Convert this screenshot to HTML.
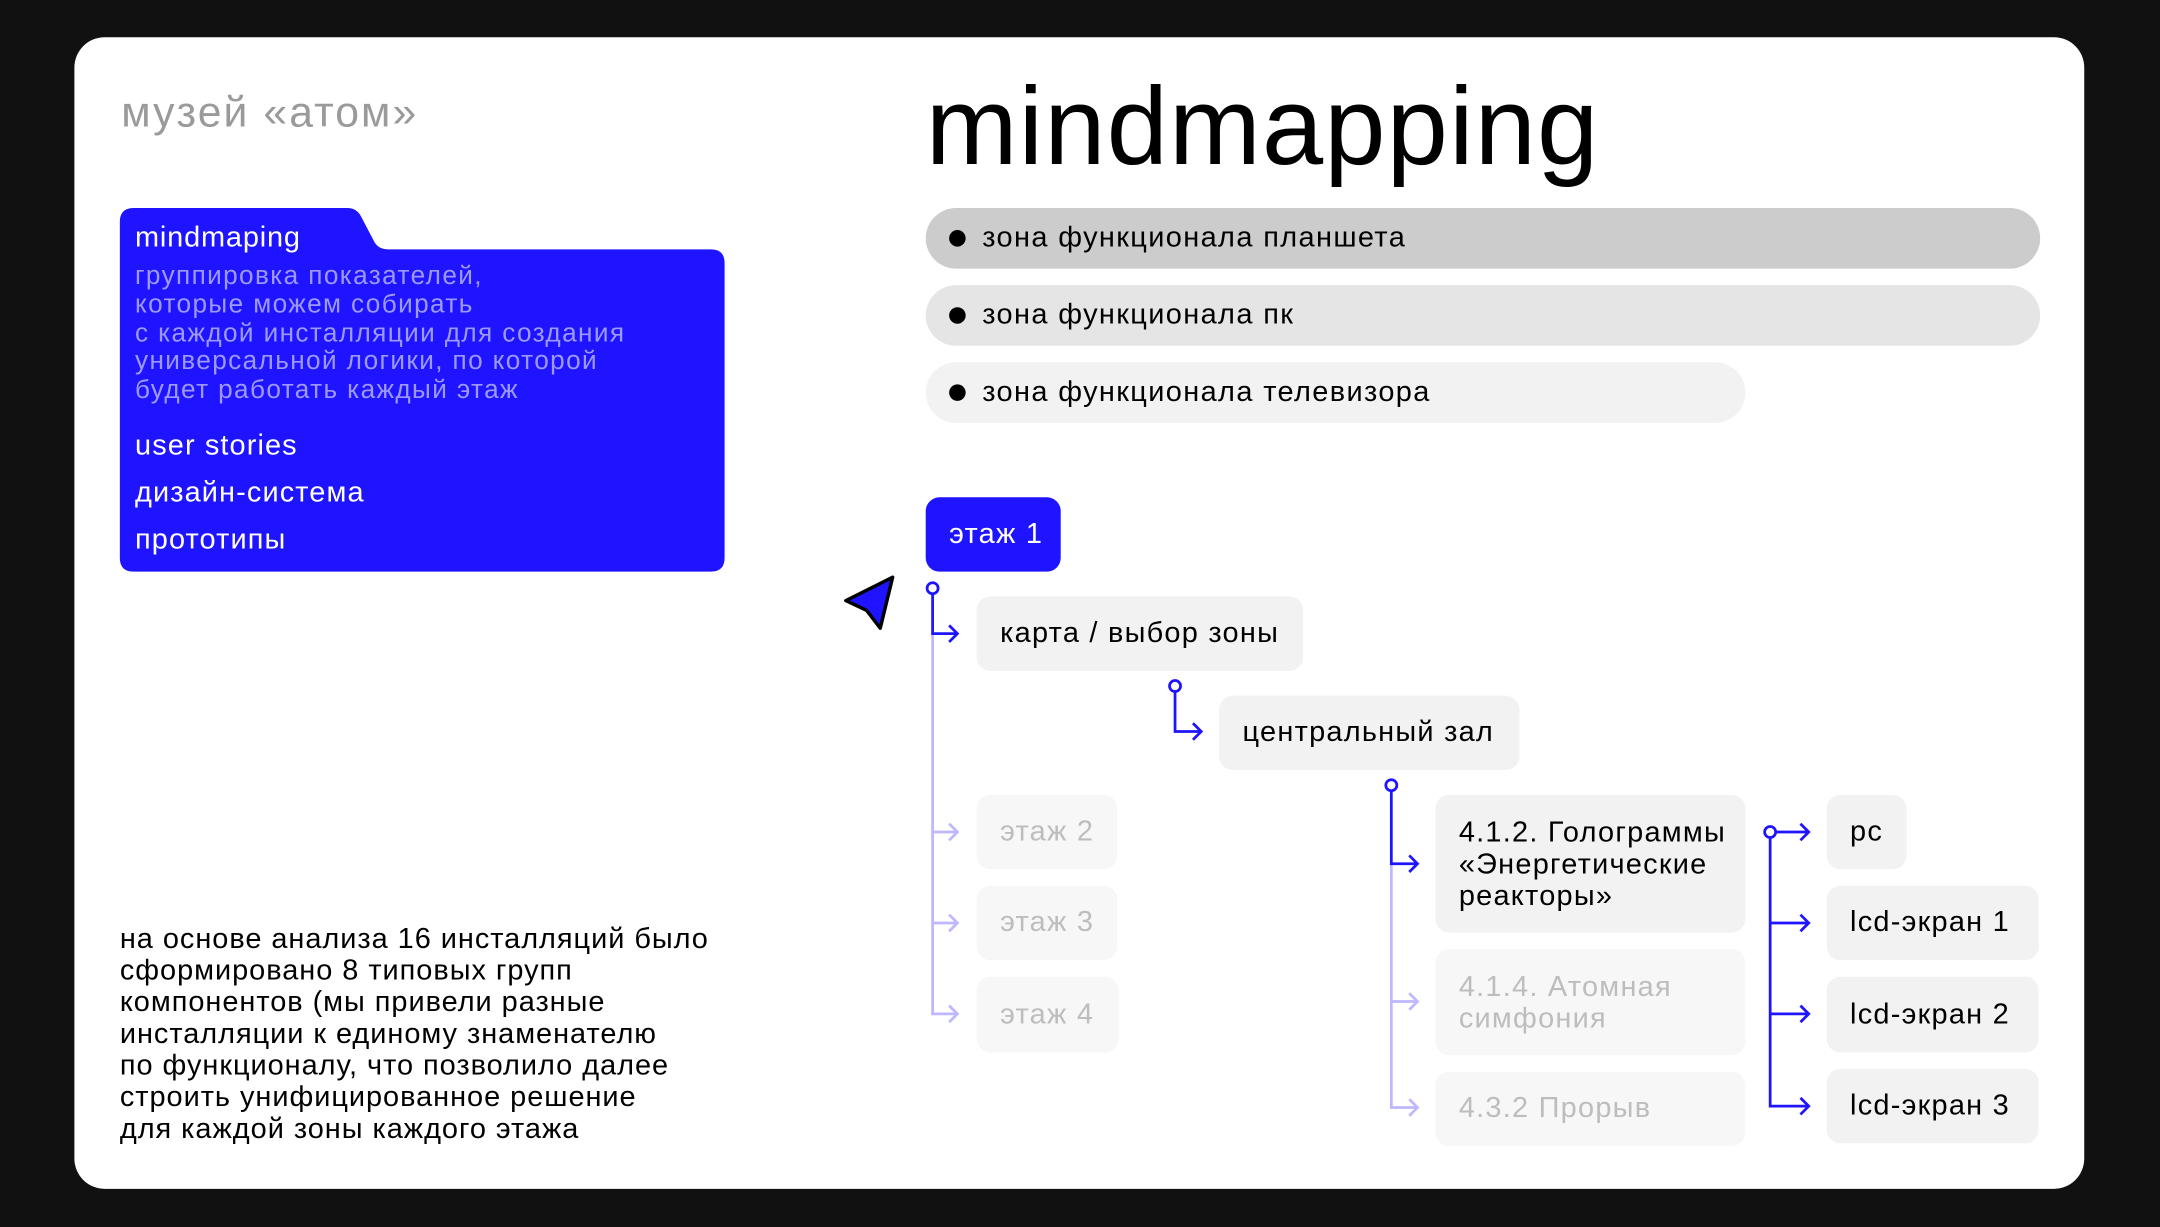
<!DOCTYPE html>
<html><head><meta charset="utf-8"><style>
html,body{margin:0;padding:0;background:#111;width:2160px;height:1227px;overflow:hidden}
#s{position:absolute;left:0;top:0;width:1568px;height:891px;transform:scale(1.377551);transform-origin:0 0;font-family:"Liberation Sans","Noto Sans CJK SC",sans-serif}
.a{position:absolute;white-space:nowrap}
.card{left:54px;top:27px;width:1459px;height:836px;background:#fff;border-radius:22px}
.b{position:absolute;border-radius:10px;background:#f2f2f2;color:#000;font-size:21px;box-sizing:border-box;padding-left:17px;display:flex;align-items:center;letter-spacing:0.9px}
.f{background:#f7f7f7;color:#bdbdbd}
.pill{position:absolute;left:672px;height:44px;border-radius:22px;font-size:21px;display:flex;align-items:center;padding-left:41px;box-sizing:border-box;letter-spacing:1px}
.pill:before{content:"";position:absolute;left:17px;top:16px;width:12px;height:12px;border-radius:50%;background:#000}
</style></head><body><div id="s">
<div class="a card"></div>
<div class="a" style="left:88px;top:64px;font-size:31px;color:#9a9a9a;letter-spacing:1.5px">музей «атом»</div>
<div class="a" style="left:672px;top:46px;font-size:80px;color:#000;letter-spacing:0.8px">mindmapping</div>
<div class="pill" style="top:151px;width:809px;background:#cccccc">зона функционала планшета</div>
<div class="pill" style="top:207px;width:809px;background:#e5e5e5">зона функционала пк</div>
<div class="pill" style="top:263px;width:595px;background:#f2f2f2">зона функционала телевизора</div>
<svg class="a" style="left:0;top:0" width="1568" height="891">
<path d="M87 420 V161 Q87 151 97 151 H252 Q259 151 262 157 L272 176 Q275 181 282 181 H516 Q526 181 526 191 V405 Q526 415 516 415 H97 Q87 415 87 405 Z" fill="#1f14ff"/>
<path d="M648 419 L614 436 L629 443 L639 456 Z" fill="#1f14ff" stroke="#000" stroke-width="2.5" stroke-linejoin="round"/>
<g fill="none" stroke-width="2">
<path d="M677 460 V736 H695 M677 604 H695 M677 670 H695 M689 598 L695 604 L689 610 M689 664 L695 670 L689 676 M689 730 L695 736 L689 742" stroke="#bdb8ff"/>
<path d="M677 431 V460 H695 M689 454 L695 460 L689 466" stroke="#1f14ff"/>
<path d="M853 502 V531 H872 M866 525 L872 531 L866 537" stroke="#1f14ff"/>
<path d="M1010 627 V804 H1029 M1010 727 H1029 M1023 721 L1029 727 L1023 733 M1023 798 L1029 804 L1023 810" stroke="#bdb8ff"/>
<path d="M1010 574 V627 H1029 M1023 621 L1029 627 L1023 633" stroke="#1f14ff"/>
<path d="M1289 604 H1313 M1307 598 L1313 604 L1307 610 M1285 608 V803 H1313 M1285 670 H1313 M1285 736 H1313 M1307 664 L1313 670 L1307 676 M1307 730 L1313 736 L1307 742 M1307 797 L1313 803 L1307 809" stroke="#1f14ff"/>
<circle cx="677" cy="427" r="4" stroke="#1f14ff" fill="#fff"/>
<circle cx="853" cy="498" r="4" stroke="#1f14ff" fill="#fff"/>
<circle cx="1010" cy="570" r="4" stroke="#1f14ff" fill="#fff"/>
<circle cx="1285" cy="604" r="4" stroke="#1f14ff" fill="#fff"/>
</g></svg>
<div class="a" style="left:98px;top:161px;font-size:21px;color:#fff;letter-spacing:0.6px">mindmaping</div>
<div class="a" style="left:98px;top:191px;font-size:19px;line-height:20.8px;color:#9d99ff;letter-spacing:1px">группировка показателей,<br>которые можем собирать<br>с каждой инсталляции для создания<br>универсальной логики, по которой<br>будет работать каждый этаж</div>
<div class="a" style="left:98px;top:307px;font-size:21px;line-height:34px;color:#fff;letter-spacing:0.8px">user stories<br>дизайн-система<br>прототипы</div>
<div class="a" style="left:87px;top:670px;font-size:21px;line-height:23px;color:#000;letter-spacing:0.7px">на основе анализа 16 инсталляций было<br>сформировано 8 типовых групп<br>компонентов (мы привели разные<br>инсталляции к единому знаменателю<br>по функционалу, что позволило далее<br>строить унифицированное решение<br>для каждой зоны каждого этажа</div>
<div class="b" style="left:672px;top:361px;width:98px;height:54px;background:#1f14ff;color:#fff">этаж 1</div>
<div class="b" style="left:709px;top:433px;width:237px;height:54px">карта / выбор зоны</div>
<div class="b" style="left:885px;top:505px;width:218px;height:54px">центральный зал</div>
<div class="b f" style="left:709px;top:577px;width:102px;height:54px">этаж 2</div>
<div class="b f" style="left:709px;top:643px;width:102px;height:54px">этаж 3</div>
<div class="b f" style="left:709px;top:709px;width:103px;height:55px">этаж 4</div>
<div class="b" style="left:1042px;top:577px;width:225px;height:100px;line-height:23px">4.1.2. Голограммы<br>«Энергетические<br>реакторы»</div>
<div class="b f" style="left:1042px;top:689px;width:225px;height:77px;line-height:23px">4.1.4. Атомная<br>симфония</div>
<div class="b f" style="left:1042px;top:778px;width:225px;height:54px">4.3.2 Прорыв</div>
<div class="b" style="left:1326px;top:577px;width:58px;height:54px">pc</div>
<div class="b" style="left:1326px;top:643px;width:154px;height:54px">lcd-экран 1</div>
<div class="b" style="left:1326px;top:709px;width:154px;height:55px">lcd-экран 2</div>
<div class="b" style="left:1326px;top:776px;width:154px;height:54px">lcd-экран 3</div>
</div></body></html>
